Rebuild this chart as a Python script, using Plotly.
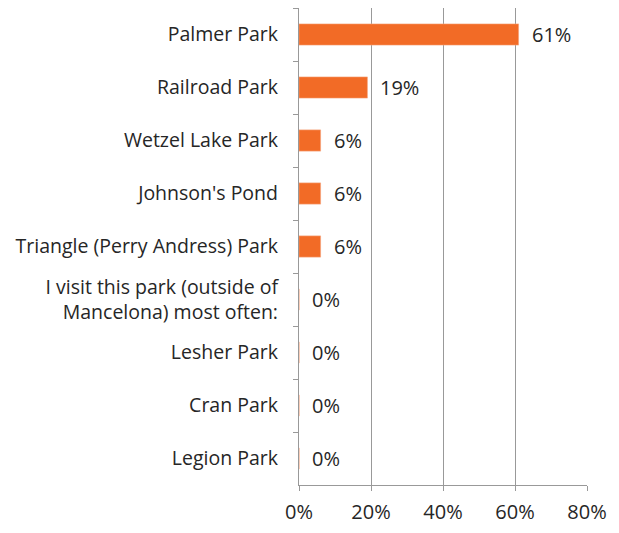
import plotly.graph_objects as go

parks = [
    "Palmer Park",
    "Railroad Park",
    "Wetzel Lake Park",
    "Johnson's Pond",
    "Triangle (Perry Andress) Park",
    "I visit this park (outside of<br>Mancelona) most often:",
    "Lesher Park",
    "Cran Park",
    "Legion Park",
]
share = [61, 19, 6, 6, 6, 0, 0, 0, 0]
x_ticks = [0, 20, 40, 60, 80]

AXIS_GRAY = "#999999"
TEXT = "#262626"
FONT = "Open Sans, Noto Sans, sans-serif"

fig = go.Figure()

fig.add_trace(
    go.Bar(
        y=parks,
        x=share,
        orientation="h",
        width=0.4,
        marker=dict(color="#f26b26", line=dict(color="#f5a37a", width=0.6)),
        hoverinfo="skip",
    )
)

for park, value in zip(parks, share):
    fig.add_annotation(
        x=value,
        y=park,
        text=f"{value}%",
        showarrow=False,
        xanchor="left",
        xshift=11,
        font=dict(size=20, color=TEXT, family=FONT),
    )

# page body adds an 8px offset, so the figure is a bit smaller than the window
fig.update_layout(
    width=603,
    height=517,
    plot_bgcolor="white",
    paper_bgcolor="white",
    showlegend=False,
    margin=dict(l=291, r=24, t=0, b=31),
    font=dict(family=FONT, size=20, color=TEXT),
)

fig.update_xaxes(
    range=[0, 80],
    tickvals=x_ticks,
    ticktext=[f"{v}%" for v in x_ticks],
    showgrid=True,
    gridcolor=AXIS_GRAY,
    gridwidth=1.2,
    zeroline=False,
    showline=True,
    linecolor=AXIS_GRAY,
    linewidth=1.2,
    ticks="outside",
    ticklen=5,
    tickcolor=AXIS_GRAY,
    tickfont=dict(size=20, color=TEXT),
    ticklabelstandoff=4,
)

fig.update_yaxes(
    autorange="reversed",
    showgrid=False,
    showline=True,
    linecolor=AXIS_GRAY,
    linewidth=1.2,
    ticks="outside",
    tickson="boundaries",
    ticklen=5,
    tickcolor=AXIS_GRAY,
    tickfont=dict(size=19.5, color=TEXT),
    ticklabelstandoff=16,
)

fig.write_html("out.html")
